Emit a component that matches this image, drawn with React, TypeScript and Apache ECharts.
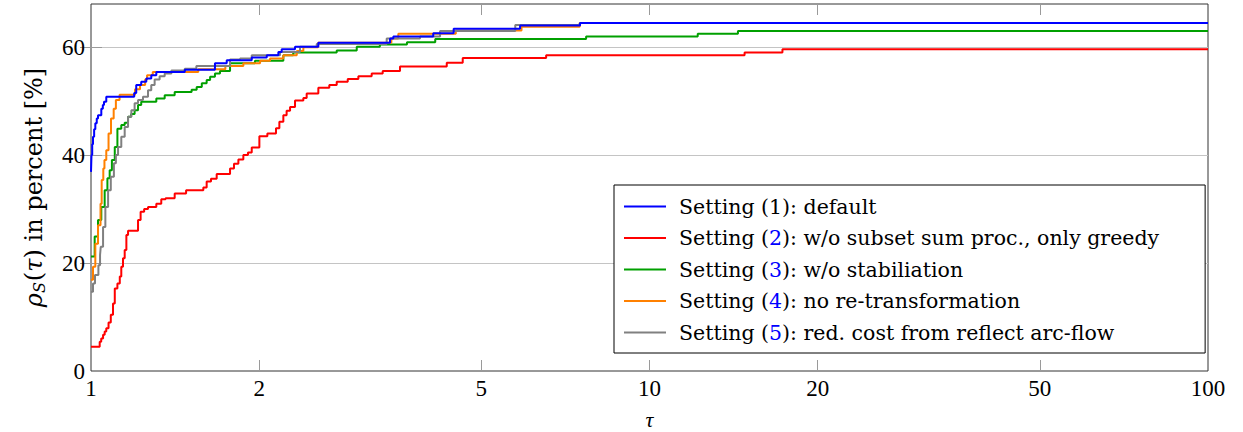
import React, { useEffect, useRef } from "react";
import * as echarts from "echarts";

// ---------- data (tau, rho_S in %) ----------
const seriesNames = [
  "Setting (1): default",
  "Setting (2): w/o subset sum proc., only greedy",
  "Setting (3): w/o stabiliation",
  "Setting (4): no re-transformation",
  "Setting (5): red. cost from reflect arc-flow",
];
const seriesColors = ["#0000ff", "#ff0000", "#00a000", "#ff8000", "#808080"];

const setting1: [number, number][] = [
  [1, 36.9], [1.002, 40.0], [1.005, 42.0], [1.0083, 43.4], [1.013, 44.8], [1.018, 45.9],
  [1.024, 46.8], [1.0293, 47.4], [1.0434, 48.6], [1.05, 49.3], [1.055, 49.9], [1.065, 50.8],
  [1.195, 51.5], [1.205, 53.0], [1.23, 53.6], [1.256, 54.2], [1.282, 54.8], [1.309, 55.4],
  [1.472, 55.8], [1.667, 57.0], [1.75, 57.6], [1.94, 58.1], [2.064, 58.5], [2.165, 59.1],
  [2.195, 59.6], [2.319, 60.1], [2.553, 60.8], [3.431, 61.6], [3.478, 62.0], [4.1, 62.6],
  [4.46, 63.4], [5.865, 64.0], [7.51, 64.5], [100, 64.5],
];
const setting2: [number, number][] = [
  [1, 4.5], [1.0365, 5.4], [1.043, 6.0], [1.051, 6.7], [1.058, 7.3], [1.065, 7.9], [1.075, 9.0],
  [1.085, 10.4], [1.095, 12.5], [1.103, 15.3], [1.115, 16.2], [1.126, 17.5], [1.133, 19.3],
  [1.141, 20.9], [1.149, 22.4], [1.157, 25.2], [1.165, 26.0], [1.214, 28.0], [1.227, 29.5],
  [1.245, 30.0], [1.265, 30.4], [1.309, 31.0], [1.336, 31.8], [1.36, 32.0], [1.412, 32.9],
  [1.48, 33.5], [1.589, 34.0], [1.611, 35.1], [1.64, 35.6], [1.679, 36.5], [1.774, 37.5],
  [1.803, 38.4], [1.836, 39.2], [1.874, 40.0], [1.91, 40.5], [1.94, 41.4], [2.002, 43.5],
  [2.069, 44.0], [2.144, 45.0], [2.174, 46.2], [2.21, 47.4], [2.24, 48.2], [2.272, 48.9],
  [2.319, 50.1], [2.4, 50.6], [2.433, 51.4], [2.553, 52.5], [2.671, 53.0], [2.754, 53.6],
  [2.882, 54.1], [3.011, 54.6], [3.181, 55.1], [3.329, 55.6], [3.575, 56.4], [4.335, 57.1],
  [4.63, 58.0], [6.53, 58.5], [14.8, 59.0], [17.3, 59.6], [100, 59.6],
];
const setting3: [number, number][] = [
  [1, 21.2], [1.0153, 24.9], [1.0293, 28.0], [1.0434, 30.4], [1.058, 33.5], [1.07, 35.7],
  [1.08, 37.2], [1.09, 39.1], [1.103, 41.5], [1.115, 44.9], [1.133, 45.6], [1.149, 46.0],
  [1.165, 47.1], [1.18, 47.6], [1.197, 48.3], [1.214, 49.3], [1.23, 49.9], [1.309, 50.5],
  [1.355, 51.1], [1.412, 51.7], [1.514, 52.1], [1.546, 52.6], [1.579, 53.3], [1.611, 53.9],
  [1.634, 54.5], [1.667, 55.1], [1.702, 55.6], [1.774, 57.0], [1.966, 57.5], [2.21, 58.5],
  [2.302, 59.0], [2.754, 59.4], [2.991, 60.1], [3.29, 60.5], [3.679, 60.9], [4.134, 61.5],
  [7.7, 62.0], [12.2, 62.5], [14.4, 63.0], [100, 63.0],
];
const setting4: [number, number][] = [
  [1, 16.9], [1.0083, 19.3], [1.018, 23.6], [1.0293, 27.0], [1.04, 31.0], [1.045, 35.4],
  [1.052, 37.5], [1.057, 39.1], [1.065, 40.9], [1.075, 44.0], [1.086, 46.8], [1.098, 48.6],
  [1.108, 50.2], [1.125, 51.2], [1.199, 52.2], [1.224, 53.0], [1.25, 54.0], [1.26, 54.8],
  [1.29, 55.4], [1.556, 55.9], [1.74, 56.5], [1.874, 57.0], [2.008, 57.5], [2.092, 57.9],
  [2.21, 58.5], [2.336, 59.3], [2.4, 60.0], [2.55, 60.8], [3.45, 61.6], [3.55, 62.5],
  [4.5, 63.1], [5.9, 63.8], [7.5, 64.5], [100, 64.5],
];
const setting5: [number, number][] = [
  [1, 14.7], [1.0083, 16.2], [1.0166, 17.8], [1.031, 19.6], [1.038, 21.5], [1.041, 23.0],
  [1.051, 26.7], [1.061, 30.4], [1.073, 33.5], [1.085, 36.0], [1.099, 38.5], [1.108, 40.0],
  [1.118, 41.5], [1.133, 43.4], [1.149, 45.2], [1.165, 47.1], [1.181, 48.3], [1.197, 49.6],
  [1.214, 50.2], [1.239, 50.8], [1.265, 52.0], [1.282, 53.0], [1.3, 54.0], [1.327, 54.6],
  [1.355, 55.1], [1.393, 55.7], [1.472, 56.0], [1.544, 56.5], [1.774, 57.7], [1.849, 57.9],
  [1.94, 58.5], [2.18, 59.1], [2.367, 60.1], [2.536, 60.6], [3.384, 61.6], [3.882, 62.0],
  [4.217, 63.0], [5.75, 64.1], [7.5, 64.5], [100, 64.5],
];
const allSeries = [setting1, setting2, setting3, setting4, setting5];

const xLabelValues = [1, 2, 5, 10, 20, 50, 100];
const xTickValues = [2, 5, 10, 20, 50];
const yLabelValues = [0, 20, 40, 60];
const yTickValues = [20, 40, 60];

const SERIF = "Liberation Serif";
const WIDE_SERIF = "DejaVu Serif";

export default function App() {
  const ref = useRef<HTMLDivElement>(null);
  useEffect(() => {
    const chart = echarts.init(ref.current!, null, { renderer: "svg" });
    const logLabels = xLabelValues.map((v) => Math.log10(v));
    const logTicks = xTickValues.map((v) => Math.log10(v));
    const tickStyle = { color: "#9a9a9a", width: 1 };
    chart.setOption({
      animation: false,
      backgroundColor: "#ffffff",
      grid: {
        left: 91, right: 35, top: 4, bottom: 61,
        show: true, borderColor: "#333", borderWidth: 1,
        containLabel: false,
        outerBoundsMode: "none",
      },
      legend: {
        orient: "vertical",
        left: 614,
        top: 185,
        icon: "rect",
        itemWidth: 42,
        itemHeight: 2,
        itemGap: 10.5,
        padding: [11, 46, 10, 10],
        borderColor: "#000",
        borderWidth: 1,
        backgroundColor: "#fff",
        data: seriesNames,
        formatter: (name: string) =>
          name.replace(/\((\d)\)/, (m: string, d: string) => (d === "1" ? m : `({n|${d}})`)),
        textStyle: {
          fontFamily: WIDE_SERIF,
          fontSize: 20.5,
          color: "#000",
          lineHeight: 20,
          padding: [0, 0, 0, 8],
          rich: { n: { color: "#0000ff", fontFamily: WIDE_SERIF, fontSize: 20.5 } },
        },
      },
      xAxis: [
        {
          type: "log", logBase: 10, min: 1, max: 100,
          axisLine: { show: false }, axisTick: { show: false },
          axisLabel: { show: false }, splitLine: { show: false }, minorTick: { show: false },
        },
        {
          type: "value", min: 0, max: 2, position: "bottom",
          axisLine: { show: false },
          axisTick: { show: true, inside: true, length: 11, lineStyle: tickStyle, customValues: logTicks },
          axisLabel: {
            customValues: logLabels,
            formatter: (v: number) => String(Math.round(Math.pow(10, v))),
            fontFamily: SERIF, fontSize: 23, color: "#000", margin: 6,
          },
          splitLine: { show: false },
          name: "τ", nameLocation: "middle", nameGap: 37,
          nameTextStyle: { fontFamily: SERIF, fontSize: 22, lineHeight: 22, fontStyle: "italic", color: "#000" },
        },
        {
          type: "value", min: 0, max: 2, position: "top",
          axisLine: { show: false },
          axisTick: { show: true, inside: true, length: 11, lineStyle: tickStyle, customValues: logTicks },
          axisLabel: { show: false }, splitLine: { show: false },
        },
      ],
      yAxis: [
        {
          type: "value", min: 0, max: 68,
          axisLine: { show: false },
          axisTick: { show: true, inside: true, length: 11, lineStyle: tickStyle, customValues: yTickValues },
          axisLabel: { customValues: yLabelValues, fontFamily: SERIF, fontSize: 23, color: "#000", margin: 6 },
          splitLine: { show: true, lineStyle: { color: "#c4c4c4", width: 1 } },
          name: "{i|ρ}{s|S}{n|(}{i|τ}{n|) in percent [%]}",
          nameLocation: "middle", nameRotate: 90, nameGap: 44,
          nameTextStyle: {
            fontFamily: WIDE_SERIF, fontSize: 24, color: "#000",
            rich: {
              i: { fontFamily: WIDE_SERIF, fontSize: 24, fontStyle: "italic", color: "#000" },
              s: { fontFamily: WIDE_SERIF, fontSize: 16, fontStyle: "italic", color: "#000", padding: [11, 1, 0, 0] },
              n: { fontFamily: WIDE_SERIF, fontSize: 24, color: "#000" },
            },
          },
        },
        {
          type: "value", min: 0, max: 68, position: "right",
          axisLine: { show: false },
          axisTick: { show: true, inside: true, length: 11, lineStyle: tickStyle, customValues: yTickValues },
          axisLabel: { show: false }, splitLine: { show: false },
        },
      ],
      series: allSeries.map((d, i) => ({
        name: seriesNames[i],
        type: "line",
        xAxisIndex: 0,
        yAxisIndex: 0,
        step: "end",
        symbol: "none",
        data: d,
        z: i === 0 ? 4 : 3,
        lineStyle: { color: seriesColors[i], width: 2 },
        itemStyle: { color: seriesColors[i] },
      })),
    });
    return () => chart.dispose();
  }, []);
  return (
    <div
      ref={ref}
      style={{ position: "fixed", left: 0, top: 0, width: 1243, height: 432 }}
    />
  );
}
